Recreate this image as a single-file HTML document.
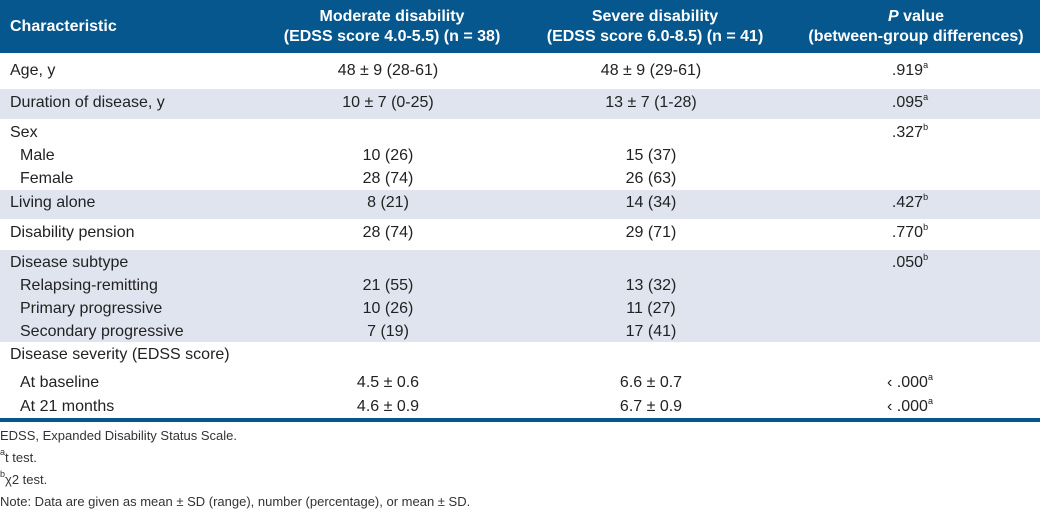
<!DOCTYPE html>
<html><head><meta charset="utf-8"><style>
body{margin:0;width:1040px;height:509px;background:#fff;font-family:"Liberation Sans",sans-serif;color:#222;position:relative;overflow:hidden}
.h{position:absolute;left:0;top:0;width:1040px;height:53px;background:#05578e}
.ht{position:absolute;color:#fff;font-weight:bold;font-size:16px;line-height:20px;text-align:center;white-space:nowrap}
.band{position:absolute;left:0;width:1040px;background:#dfe4ef;border-top:1px solid #fff}
.t{position:absolute;font-size:16px;line-height:20px;white-space:nowrap}
.c{transform:translateX(-50%)}
.f{position:absolute;left:0;font-size:13px;color:#333;line-height:16px;white-space:nowrap}
sup{font-size:9px;line-height:0;vertical-align:0;position:relative;top:-7px}
</style></head><body>
<div class="h"></div>
<div class="ht" style="left:10px;top:17px;text-align:left">Characteristic</div>
<div class="ht c" style="left:392px;top:7px">Moderate disability<br>(EDSS score 4.0-5.5) (n = 38)</div>
<div class="ht c" style="left:655px;top:7px">Severe disability<br>(EDSS score 6.0-8.5) (n = 41)</div>
<div class="ht c" style="left:916px;top:7px"><i>P</i> value<br>(between-group differences)</div>
<div class="band" style="top:88px;height:30px"></div>
<div class="band" style="top:189px;height:29px"></div>
<div class="band" style="top:249px;height:92px"></div>
<div style="position:absolute;left:0;top:418px;width:1040px;height:4px;background:#05578e"></div>
<div id="rows"></div>
<div class="f" style="top:428px">EDSS, Expanded Disability Status Scale.</div>
<div class="f" style="top:450px"><sup>a</sup>t test.</div>
<div class="f" style="top:472px"><sup>b</sup>χ2 test.</div>
<div class="f" style="top:494px">Note: Data are given as mean ± SD (range), number (percentage), or mean ± SD.</div>
<script>
const rows=[
[71,"Age, y",0,"48 ± 9 (28-61)","48 ± 9 (29-61)",".919","a"],
[103,"Duration of disease, y",0,"10 ± 7 (0-25)","13 ± 7 (1-28)",".095","a"],
[133,"Sex",0,"","",".327","b"],
[156,"Male",1,"10 (26)","15 (37)","",""],
[179,"Female",1,"28 (74)","26 (63)","",""],
[203,"Living alone",0,"8 (21)","14 (34)",".427","b"],
[233,"Disability pension",0,"28 (74)","29 (71)",".770","b"],
[263,"Disease subtype",0,"","",".050","b"],
[286,"Relapsing-remitting",1,"21 (55)","13 (32)","",""],
[309,"Primary progressive",1,"10 (26)","11 (27)","",""],
[332,"Secondary progressive",1,"7 (19)","17 (41)","",""],
[355,"Disease severity (EDSS score)",0,"","","",""],
[383,"At baseline",1,"4.5 ± 0.6","6.6 ± 0.7","‹ .000","a"],
[407,"At 21 months",1,"4.6 ± 0.9","6.7 ± 0.9","‹ .000","a"]];
const host=document.getElementById('rows');
rows.forEach(r=>{
 const mk=(html,left,center,name)=>{const d=document.createElement('div');d.className='t'+(center?' c':'');d.style.left=left+'px';d.style.top=(r[0]-10)+'px';d.innerHTML=html;
 
 
 host.appendChild(d);};
 mk(r[1],r[2]?20:10,false,'row-label');
 if(r[3])mk(r[3],388,true,'moderate-value');
 if(r[4])mk(r[4],651,true,'severe-value');
 if(r[5])mk(r[5]+'<sup>'+r[6]+'</sup>',910,true,'p-value');
});
</script>
</body></html>
